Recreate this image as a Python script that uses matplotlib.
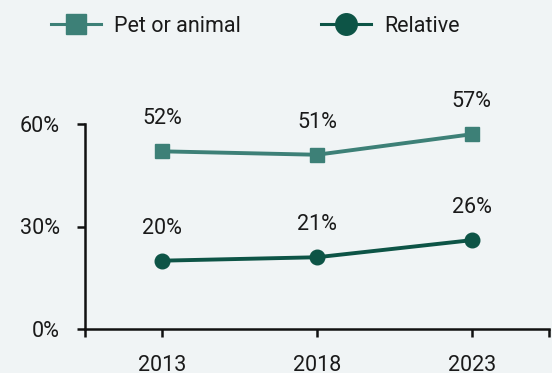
import matplotlib
matplotlib.use("Agg")
import matplotlib.pyplot as plt
from matplotlib.lines import Line2D

years = [2013, 2018, 2023]
pet_or_animal = [52, 51, 57]
relative = [20, 21, 26]
series_names = ["Pet or animal", "Relative"]
y_ticks = [0, 30, 60]

bg = "#f0f4f5"
pet_color = "#3d8077"
rel_color = "#0d5446"
text_color = "#1a1a1a"
fs = 15.5

plt.rcParams["font.family"] = ["Roboto", "DejaVu Sans"]

fig = plt.figure(figsize=(5.52, 3.73), dpi=100, facecolor=bg)
ax = fig.add_axes([85 / 552, 44 / 373, 464 / 552, 205 / 373])
ax.set_facecolor(bg)

ax.plot(years, pet_or_animal, color=pet_color, lw=2.8, marker="s", ms=9.5,
        zorder=3, clip_on=False)
ax.plot(years, relative, color=rel_color, lw=2.8, marker="o", ms=10.5,
        zorder=3, clip_on=False)

# value labels sit above each marker
for series in (pet_or_animal, relative):
    for x, v in zip(years, series):
        ax.annotate(f"{v}%", (x, v), xytext=(0, 19.5), textcoords="offset points",
                    ha="center", va="baseline", fontsize=fs, color=text_color)

ax.set_xlim(2010.5, 2025.5)
ax.set_ylim(0, 60)
ax.set_xticks(years)
ax.set_xticks([2010.5, 2025.5], minor=True)
ax.set_yticks(y_ticks)
ax.set_yticklabels([f"{t}%" for t in y_ticks])

for side in ("top", "right"):
    ax.spines[side].set_visible(False)
for side in ("left", "bottom"):
    ax.spines[side].set_linewidth(1.8)
    ax.spines[side].set_color("#111111")

ax.tick_params(axis="both", which="both", direction="out", length=6, width=1.8,
               color="#111111", labelsize=fs, labelcolor=text_color)
ax.tick_params(axis="x", which="major", pad=12.5)
ax.tick_params(axis="y", pad=12)

handles = [
    Line2D([], [], color=pet_color, lw=2.2, marker="s", ms=14.5),
    Line2D([], [], color=rel_color, lw=2.2, marker="o", ms=15.5,
           markeredgecolor=rel_color),
]
fig.legend(handles, series_names, loc="center left",
           bbox_to_anchor=(32 / 552, 1 - 26 / 373), ncol=2, frameon=False,
           fontsize=fs, handlelength=2.3, columnspacing=3.75,
           handletextpad=0.6, labelcolor=text_color)

fig.savefig("out.png", dpi=100, facecolor=bg)
